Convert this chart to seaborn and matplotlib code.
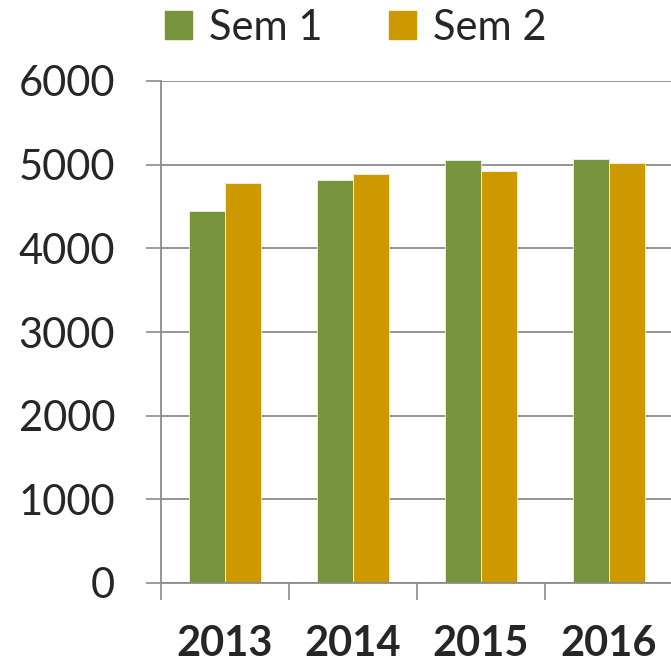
import pandas as pd
import seaborn as sns
import matplotlib.pyplot as plt

# values
years = ['2013', '2014', '2015', '2016']
sem1 = [4450, 4820, 5050, 5065]
sem2 = [4785, 4885, 4930, 5025]
series = ['Sem 1', 'Sem 2']
colors = ['#77933C', '#CC9900']
y_ticks = [0, 1000, 2000, 3000, 4000, 5000, 6000]

df = pd.DataFrame({
    'year': years * 2,
    'value': sem1 + sem2,
    'series': [series[0]] * len(years) + [series[1]] * len(years),
})

sns.set_style('white')
plt.rcParams['font.family'] = ['Lato', 'DejaVu Sans']

fig = plt.figure(figsize=(6.71, 6.67), dpi=100)
ax = fig.add_axes([161 / 671, 84 / 667, 512 / 671, 502 / 667])

sns.barplot(data=df, x='year', y='value', hue='series', palette=colors,
            width=0.57, ax=ax, edgecolor='#f0f0f0', linewidth=0.6,
            saturation=1)

ax.set_xlim(-0.5, len(years) - 0.5)
ax.set_ylim(0, 6000)
ax.set_yticks(y_ticks)
ax.set_yticklabels([str(t) for t in y_ticks], fontsize=30)
ax.set_xlabel('')
ax.set_ylabel('')

# year labels at centres, tick marks at category boundaries
ax.set_xticks(range(len(years)))
ax.set_xticklabels(years, fontsize=30, fontweight='bold')
ax.set_xticks([i - 0.5 for i in range(len(years) + 1)], minor=True)
ax.tick_params(axis='x', which='major', bottom=True, length=0, pad=30)
ax.tick_params(axis='x', which='minor', bottom=True, length=12, width=1.2,
               color='#8c8c8c', direction='out')
ax.tick_params(axis='y', left=True, length=11, width=1.2, color='#8c8c8c',
               direction='out', pad=22)

ax.grid(axis='y', color='#8c8c8c', linewidth=1.3)
ax.set_axisbelow(True)
for s in ['top', 'right']:
    ax.spines[s].set_visible(False)
for s in ['left', 'bottom']:
    ax.spines[s].set_color('#8c8c8c')
    ax.spines[s].set_linewidth(1.3)

ax.get_legend().remove()
handles = [plt.Rectangle((0, 0), 1, 1, color=c) for c in colors]
fig.legend(handles, series, loc='center', bbox_to_anchor=(356 / 671, 1 - 28 / 667),
           ncol=2, frameon=False, fontsize=30, handlelength=0.65,
           handleheight=0.65, handletextpad=0.4, columnspacing=1.6,
           borderpad=0)

fig.savefig('out.png', dpi=100)
